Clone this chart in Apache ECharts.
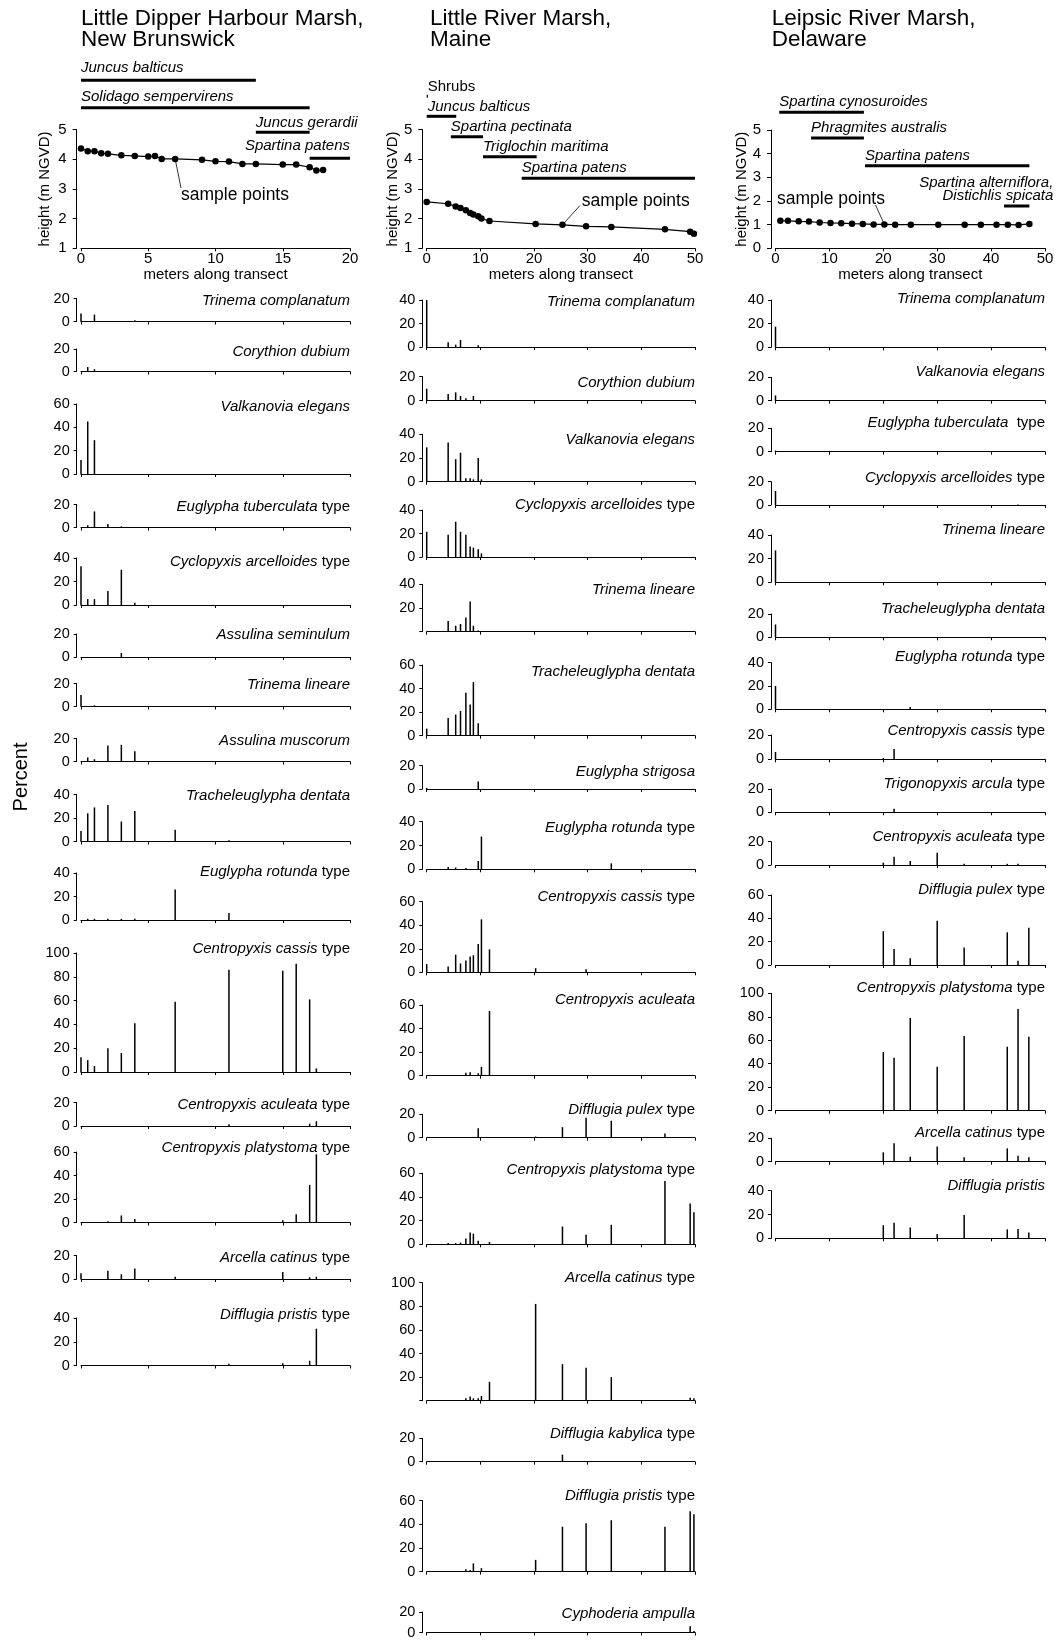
<!DOCTYPE html>
<html>
<head>
<meta charset="utf-8">
<script src="https://cdn.jsdelivr.net/npm/echarts@6/dist/echarts.min.js"></script>
<style>
html, body { margin: 0; padding: 0; background: #fff; }
#chart { width: 1057px; height: 1640px; }
</style>
</head>
<body>
<div id="chart"></div>
<script>
// ---------- Little Dipper Harbour Marsh, New Brunswick ----------
const dipperDist = [0, 0.5, 1, 1.5, 2, 3, 4, 5, 5.5, 6, 7, 9, 10, 11, 12, 13, 15, 16, 17, 17.5, 18]
const dipperHeight = [4.36, 4.27, 4.27, 4.2, 4.18, 4.13, 4.11, 4.09, 4.11, 4.01, 4.01, 3.98, 3.93, 3.92, 3.84, 3.84, 3.82, 3.82, 3.73, 3.62, 3.64]
const dipperPlants = ['Juncus balticus', 'Solidago sempervirens', 'Juncus gerardii', 'Spartina patens']
const dipperPlantFrom = [0, 0, 13, 17]
const dipperPlantTo = [13, 17, 17, 20]
const dipperSamples = [0, 0.5, 1, 2, 3, 4, 7, 11, 15, 16, 17, 17.5]
const dipperTaxa = [
  'Trinema complanatum', 'Corythion dubium', 'Valkanovia elegans', 'Euglypha tuberculata type',
  'Cyclopyxis arcelloides type', 'Assulina seminulum', 'Trinema lineare', 'Assulina muscorum',
  'Tracheleuglypha dentata', 'Euglypha rotunda type', 'Centropyxis cassis type',
  'Centropyxis aculeata type', 'Centropyxis platystoma type', 'Arcella catinus type', 'Difflugia pristis type'
]
const dipperPercent = [
  [7, 0, 6, 0, 0, 1, 0, 0, 0, 0, 0, 0],
  [0, 4, 2, 0, 0, 0, 0, 0, 0, 0, 0, 0],
  [12, 45, 29, 0, 0, 0, 0, 0, 0, 0, 0, 0],
  [0, 2, 14, 3, 1, 0, 0, 0, 0, 0, 0, 0],
  [33, 5, 5, 12, 30, 2, 0, 0, 0, 0, 0, 0],
  [0, 0, 0, 0, 3.5, 0, 0, 0, 0, 0, 0, 0],
  [10, 0, 1, 0, 0, 0, 0, 0, 0, 0, 0, 0],
  [0, 3.5, 2, 14, 14.5, 9, 0, 0, 0, 0, 0, 0],
  [9, 24, 29, 31, 17, 26, 10, 1, 0, 0, 0, 0],
  [0, 1, 1, 1, 1, 1, 26, 6, 0, 0, 0, 0],
  [12.5, 10, 5, 20, 16, 41, 59, 86, 85, 91, 61, 3],
  [0, 0, 0, 0, 0, 0, 0, 1.5, 0, 0, 2, 4],
  [0, 0, 0, 1, 6, 3, 0, 0, 2, 7, 32, 58],
  [5, 0, 0, 7, 4, 9, 2, 0, 6, 0, 1.5, 2],
  [0, 0, 0, 0, 0, 0, 0, 1.5, 2, 0, 4, 31]
]

// ---------- Little River Marsh, Maine ----------
const riverDist = [0, 4, 5.4, 6.3, 7.3, 8.1, 8.7, 9.6, 10.2, 11.7, 20.3, 25.3, 29.7, 34.4, 44.4, 49.1, 49.8]
const riverHeight = [2.56, 2.5, 2.41, 2.36, 2.28, 2.19, 2.14, 2.08, 2.0, 1.92, 1.82, 1.79, 1.74, 1.72, 1.64, 1.56, 1.49]
const riverPlants = ['Shrubs', 'Juncus balticus', 'Spartina pectinata', 'Triglochin maritima', 'Spartina patens']
const riverPlantFrom = [0, 0, 4.5, 10.5, 17.7]
const riverPlantTo = [0, 5.5, 10.5, 20.5, 50]
const riverSamples = [0, 4, 5.4, 6.3, 7.3, 8.1, 8.7, 9.6, 10.2, 11.7, 20.3, 25.3, 29.7, 34.4, 44.4, 49.1, 49.8]
const riverTaxa = [
  'Trinema complanatum', 'Corythion dubium', 'Valkanovia elegans', 'Cyclopyxis arcelloides type',
  'Trinema lineare', 'Tracheleuglypha dentata', 'Euglypha strigosa', 'Euglypha rotunda type',
  'Centropyxis cassis type', 'Centropyxis aculeata', 'Difflugia pulex type', 'Centropyxis platystoma type',
  'Arcella catinus type', 'Difflugia kabylica type', 'Difflugia pristis type', 'Cyphoderia ampulla'
]
const riverPercent = [
  [40, 4, 2, 6, 0, 0, 0, 1.5, 0, 0, 0, 0, 0, 0, 0, 0, 0],
  [10, 5.5, 7, 4, 2, 0, 4, 0, 0, 0, 0, 0, 0, 0, 0, 0, 0],
  [29, 33, 19, 24.5, 3, 3, 2, 20, 2, 0, 0, 0, 0, 0, 0, 0, 0],
  [21.5, 19, 30, 21.5, 19, 9, 8, 6.5, 3, 0, 0, 0, 0, 0, 0, 0, 0],
  [0, 9, 5, 6.5, 12, 25.5, 5, 1, 0, 0, 0, 0, 0, 0, 0, 0, 0],
  [6, 15, 18, 21, 36.5, 26.5, 45.5, 10.5, 0, 0, 0, 0, 0, 0, 0, 0, 0],
  [1, 0, 0, 0, 0, 0, 0, 6.5, 0, 0, 0, 0, 0, 0, 0, 0, 0],
  [0, 2, 1.5, 0, 1, 0, 0, 7, 27.5, 0, 0, 0, 0, 5, 0, 0, 0],
  [7, 5, 15, 7.5, 10, 13.5, 14.5, 24, 45, 19.5, 3.5, 0, 2.5, 0, 0, 0, 0],
  [0, 0, 0, 0, 2.5, 3, 0, 2, 7.5, 55, 0, 0, 0, 0, 0, 0, 0],
  [0, 0, 0, 0, 0, 0, 0, 8, 0, 0, 1, 9, 17, 14.5, 3.5, 0, 0],
  [0, 1, 1, 1.5, 5, 10, 9, 3, 0, 2, 0, 15, 8, 16.5, 53.5, 34.5, 27],
  [0, 0, 0, 0, 2, 3.5, 2, 2, 4, 16, 82, 31, 28, 20, 0, 2.5, 2],
  [0, 0, 0, 0, 0, 0, 0, 0, 0, 0, 0, 6, 0, 0, 0, 0, 0],
  [0, 0, 0, 0, 2, 1.5, 7, 0, 3, 0, 10, 38, 41, 43.5, 38, 51, 48.5],
  [0, 0, 0, 0, 0, 0, 0, 0, 0, 0, 0, 0, 0, 0, 0, 6, 1.5]
]

// ---------- Leipsic River Marsh, Delaware ----------
const leipsicDist = [0.9, 2.3, 4.3, 6.2, 8.2, 10.2, 12.2, 14.2, 16.2, 18.2, 20.2, 22.2, 25.1, 30.2, 35.1, 38.1, 41, 43.1, 45.1, 47.1]
const leipsicHeight = [1.16, 1.16, 1.14, 1.13, 1.09, 1.07, 1.06, 1.04, 1.03, 1.01, 1.01, 1.0, 1.0, 1.0, 1.0, 1.0, 1.0, 1.0, 0.99, 1.03]
const leipsicPlants = ['Spartina cynosuroides', 'Phragmites australis', 'Spartina patens', 'Spartina alterniflora,\nDistichlis spicata']
const leipsicPlantFrom = [0.7, 6.6, 16.6, 42.4]
const leipsicPlantTo = [16.4, 16.4, 47.1, 47.1]
const leipsicSamples = [0, 20, 22, 25, 30, 35, 43, 45, 47]
const leipsicTaxa = [
  'Trinema complanatum', 'Valkanovia elegans', 'Euglypha tuberculata  type', 'Cyclopyxis arcelloides type',
  'Trinema lineare', 'Tracheleuglypha dentata', 'Euglypha rotunda type', 'Centropyxis cassis type',
  'Trigonopyxis arcula type', 'Centropyxis aculeata type', 'Difflugia pulex type',
  'Centropyxis platystoma type', 'Arcella catinus type', 'Difflugia pristis'
]
const leipsicPercent = [
  [17.5, 0, 0, 0, 0, 0, 0, 0, 0],
  [4.5, 0, 0, 0, 0, 0, 0, 0, 0],
  [1, 0, 0, 0, 0, 0, 0, 0, 0],
  [12, 0, 0, 0, 0, 0, 0, 0.5, 0],
  [27, 0, 0, 0, 0, 0, 0, 0, 0],
  [11, 0, 0, 0, 0, 0, 0, 0, 0],
  [20, 0, 0, 2, 0, 0, 0, 0, 0],
  [6, 1, 8.5, 0, 0, 0, 0, 0, 0],
  [0, 0, 3, 0, 0, 0, 0, 0, 0],
  [0, 2, 7, 3.5, 10.5, 1, 1, 1, 0],
  [0, 29, 13.7, 5.7, 38, 15, 28, 3.7, 32],
  [0, 50, 45, 79, 37.5, 63.6, 54.5, 86.6, 63],
  [0, 8, 15.7, 4.3, 12.9, 3.7, 11.4, 5, 3.7],
  [0, 11, 13, 9, 3.6, 19.6, 7.5, 7.8, 4.8]
]

const FONT = "'Liberation Sans', Arial, Helvetica, sans-serif"

// layout of the three columns (pixels)
const columns = [
  {
    title: ['Little Dipper Harbour Marsh,', 'New Brunswick'], titleX: 81,
    left: 81, right: 350, xMax: 20, xStep: 5, yOffset: 4.3,
    elevTop: 129.5, elevBottom: 248.3, elevMin: 1, yNameX: 45,
    dist: dipperDist, height: dipperHeight,
    plants: dipperPlants, plantFrom: dipperPlantFrom, plantTo: dipperPlantTo,
    plantRows: [
      { barY: 80.3, labelY: 68.3, align: 'left', dx: 0 },
      { barY: 107.7, labelY: 96.7, align: 'left', dx: 0 },
      { barY: 132.3, labelY: 123.3, align: 'left', dx: 0 },
      { barY: 158.3, labelY: 145.7, align: 'right', dx: 0 }
    ],
    pointer: { index: 10, x: 181, y: 188, textX: 181, textY: 195 },
    samples: dipperSamples, taxa: dipperTaxa, percent: dipperPercent,
    // [top, baseline, label y, max]
    panels: [
      [298.5, 321.5, 301, 20], [349, 371.5, 352, 20], [404, 474, 406.5, 60], [504.5, 527.5, 507, 20],
      [558, 605, 561.5, 40], [634, 657, 635, 20], [683.5, 706.5, 685, 20], [738.5, 761.5, 740.5, 20],
      [794.5, 841.5, 796, 40], [873, 920, 872, 40], [953, 1072, 949.3, 100], [1102.5, 1126, 1105, 20],
      [1152, 1222.5, 1147.7, 60], [1255.5, 1279, 1258.3, 20], [1318, 1365.5, 1315, 40]
    ],
    hideZero: []
  },
  {
    title: ['Little River Marsh,', 'Maine'], titleX: 430,
    left: 426.7, right: 695, xMax: 50, xStep: 10, yOffset: 4.4,
    elevTop: 129.5, elevBottom: 248.3, elevMin: 1, yNameX: 393.3,
    dist: riverDist, height: riverHeight,
    plants: riverPlants, plantFrom: riverPlantFrom, plantTo: riverPlantTo,
    plantRows: [
      { barY: 96.3, labelY: 87.3, align: 'left', dx: 1, upright: true },
      { barY: 116.3, labelY: 106.7, align: 'left', dx: 1 },
      { barY: 136.7, labelY: 126.7, align: 'left', dx: 0 },
      { barY: 156.7, labelY: 146.7, align: 'left', dx: 0 },
      { barY: 178.3, labelY: 168.3, align: 'left', dx: 0 }
    ],
    pointer: { index: 11, x: 580, y: 205.5, textX: 581.7, textY: 200.7 },
    samples: riverSamples, taxa: riverTaxa, percent: riverPercent,
    panels: [
      [300, 347, 301.7, 40], [376.7, 400.7, 383.3, 20], [434.3, 481.7, 440, 40], [510, 557, 505, 40],
      [584.3, 631.7, 590, 40], [665, 735.7, 671.7, 60], [765.7, 789, 771.7, 20], [821.7, 869.3, 828.3, 40],
      [901.7, 972.3, 896.7, 60], [1005, 1075.7, 1000, 60], [1114.3, 1137.7, 1110, 20], [1173.3, 1244.3, 1170, 60],
      [1282.7, 1400.7, 1278.3, 100], [1438.3, 1461.7, 1434.3, 20], [1500.7, 1571.7, 1496, 60], [1612, 1635, 1614, 20]
    ],
    hideZero: [4, 12]
  },
  {
    title: ['Leipsic River Marsh,', 'Delaware'], titleX: 771.7,
    left: 775.5, right: 1045, xMax: 50, xStep: 10, yOffset: 4.5,
    elevTop: 130, elevBottom: 248.3, elevMin: 0, yNameX: 741.7,
    dist: leipsicDist, height: leipsicHeight,
    plants: leipsicPlants, plantFrom: leipsicPlantFrom, plantTo: leipsicPlantTo,
    plantRows: [
      { barY: 112.3, labelY: 101.7, align: 'left', dx: 0 },
      { barY: 138, labelY: 127.7, align: 'left', dx: 0 },
      { barY: 165.7, labelY: 155.7, align: 'left', dx: 0 },
      { barY: 206, labelY: 189.7, align: 'right', dx: 24 }
    ],
    pointer: { index: 10, x: 875.5, y: 205, textX: 777, textY: 199 },
    samples: leipsicSamples, taxa: leipsicTaxa, percent: leipsicPercent,
    panels: [
      [300, 347.3, 299, 40], [377.3, 400.7, 372.3, 20], [428.3, 451.7, 423.3, 20], [481.7, 505, 477.7, 20],
      [535, 582.3, 530, 40], [614, 637.3, 609, 20], [662.7, 709.3, 657.3, 40], [735, 759.3, 730.7, 20],
      [789, 812.3, 784.3, 20], [841.7, 865, 836.7, 20], [895, 965, 890, 60], [993.3, 1110.7, 988.3, 100],
      [1138.3, 1161.7, 1133.3, 20], [1190.7, 1238.3, 1186, 40]
    ],
    hideZero: []
  }
]

const grid = []
const xAxis = []
const yAxis = []
const series = []
const graphic = []

const black = '#000'
const axisLineStyle = { color: black, width: 1 }

function taxonRich(name) {
  const m = name.match(/^(.*?)(\s+type)?$/)
  return '{i|' + m[1] + '}' + (m[2] ? '{n|' + m[2] + '}' : '')
}

columns.forEach(function (c) {
  // titles
  c.title.forEach(function (line, k) {
    graphic.push({
      type: 'text', x: c.titleX, y: 18.5 + k * 21, silent: true,
      style: { text: line, font: '22.5px ' + FONT, fill: black, align: 'left', verticalAlign: 'middle' }
    })
  })

  // elevation profile
  const g = grid.length
  grid.push({ left: c.left, top: c.elevTop, width: c.right - c.left, height: c.elevBottom - c.elevTop })
  xAxis.push({
    type: 'value', gridIndex: g, min: 0, max: c.xMax, interval: c.xStep,
    axisLine: { show: true, onZero: false, lineStyle: axisLineStyle },
    axisTick: { show: true, length: 3, lineStyle: axisLineStyle },
    axisLabel: { color: black, fontSize: 15, fontFamily: FONT, margin: 3 },
    splitLine: { show: false },
    name: 'meters along transect', nameLocation: 'middle', nameGap: 19,
    nameTextStyle: { color: black, fontSize: 15, fontFamily: FONT }
  })
  yAxis.push({
    type: 'value', gridIndex: g, min: c.elevMin, max: 5, interval: 1, offset: c.yOffset,
    axisLine: { show: true, onZero: false, lineStyle: axisLineStyle },
    axisTick: { show: true, length: 4, lineStyle: axisLineStyle },
    axisLabel: { color: black, fontSize: 15, fontFamily: FONT, margin: 10 },
    splitLine: { show: false }
  })
  const pIdx = c.pointer.index
  series.push({
    type: 'line', xAxisIndex: g, yAxisIndex: g, silent: true, clip: false,
    data: c.dist.map(function (d, i) { return [d, c.height[i]] }),
    symbol: 'circle', symbolSize: 6.5, showSymbol: true,
    itemStyle: { color: black }, lineStyle: { color: black, width: 1.2 },
    markLine: {
      silent: true, symbol: ['none', 'none'], animation: false,
      label: { show: false },
      lineStyle: { color: black, width: 0.8, type: 'solid' },
      data: [[{ coord: [c.dist[pIdx], c.height[pIdx]] }, { x: c.pointer.x, y: c.pointer.y }]]
    }
  })
  graphic.push({
    type: 'text', x: c.pointer.textX, y: c.pointer.textY, silent: true,
    style: { text: 'sample points', font: '17.5px ' + FONT, fill: black, align: 'left', verticalAlign: 'middle' }
  })
  graphic.push({
    type: 'text', x: c.yNameX, y: (c.elevTop + c.elevBottom) / 2, rotation: Math.PI / 2, silent: true,
    style: { text: 'height (m NGVD)', font: '15px ' + FONT, fill: black, align: 'center', verticalAlign: 'middle' }
  })

  // vegetation zones
  series.push({
    type: 'custom', xAxisIndex: g, yAxisIndex: g, silent: true, clip: false,
    data: c.plants.map(function (p, i) { return [c.plantFrom[i], c.plantTo[i], i] }),
    renderItem: function (params, api) {
      const i = api.value(2)
      const row = c.plantRows[i]
      const x0 = api.coord([api.value(0), c.elevMin])[0]
      const x1 = api.coord([api.value(1), c.elevMin])[0]
      const tx = (row.align === 'right' ? x1 : x0) + row.dx
      return {
        type: 'group',
        children: [
          { type: 'rect', shape: { x: x0, y: row.barY - 1.5, width: Math.max(x1 - x0, 1.2), height: 3 }, style: { fill: black } },
          {
            type: 'text',
            style: {
              text: c.plants[i], x: tx, y: row.labelY, align: row.align, verticalAlign: 'middle',
              font: (row.upright ? '' : 'italic ') + '15px ' + FONT, fill: black, lineHeight: 13
            }
          }
        ]
      }
    }
  })

  // percentage panels
  c.panels.forEach(function (p, k) {
    const gi = grid.length
    const top = p[0], base = p[1], labelY = p[2], max = p[3]
    const hide = c.hideZero.indexOf(k) >= 0
    grid.push({ left: c.left, top: top, width: c.right - c.left, height: base - top })
    xAxis.push({
      type: 'value', gridIndex: gi, min: 0, max: c.xMax, interval: c.xStep,
      axisLine: { show: true, onZero: false, lineStyle: axisLineStyle },
      axisTick: { show: true, length: 3, lineStyle: axisLineStyle },
      axisLabel: { show: false }, splitLine: { show: false }
    })
    yAxis.push({
      type: 'value', gridIndex: gi, min: 0, max: max, interval: 20, offset: c.yOffset,
      axisLine: { show: true, onZero: false, lineStyle: axisLineStyle },
      axisTick: { show: true, length: 3, lineStyle: axisLineStyle },
      axisLabel: {
        color: black, fontSize: 14.5, fontFamily: FONT, margin: 7,
        formatter: function (v) { return (hide && v === 0) ? '' : String(v) }
      },
      splitLine: { show: false }
    })
    series.push({
      type: 'bar', xAxisIndex: gi, yAxisIndex: gi, silent: true, clip: false,
      barWidth: 1.5, itemStyle: { color: black },
      data: c.samples.map(function (s, i) { return [s, c.percent[k][i]] })
    })
    graphic.push({
      type: 'text', x: c.right, y: labelY, silent: true,
      style: {
        text: taxonRich(c.taxa[k]), align: 'right', verticalAlign: 'middle', fill: black,
        font: '15px ' + FONT,
        rich: {
          i: { fontStyle: 'italic', fontSize: 15, fontFamily: FONT, fill: black },
          n: { fontSize: 15, fontFamily: FONT, fill: black }
        }
      }
    })
  })
})

graphic.push({
  type: 'text', x: 21, y: 777, rotation: Math.PI / 2, silent: true,
  style: { text: 'Percent', font: '20px ' + FONT, fill: black, align: 'center', verticalAlign: 'middle' }
})

const chart = echarts.init(document.getElementById('chart'), null, { renderer: 'canvas' })
chart.setOption({
  animation: false,
  backgroundColor: '#fff',
  grid: grid,
  xAxis: xAxis,
  yAxis: yAxis,
  series: series,
  graphic: graphic
})
window.addEventListener('resize', function () { chart.resize() })
</script>
</body>
</html>
